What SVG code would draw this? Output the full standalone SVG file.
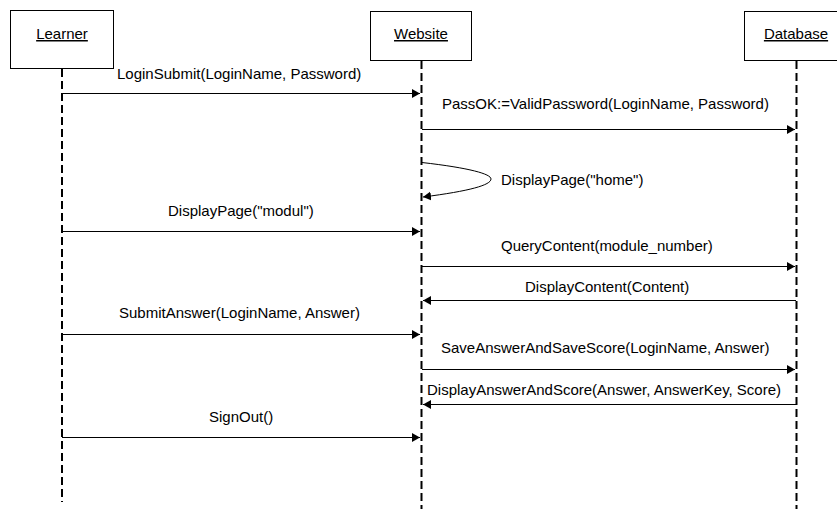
<svg xmlns="http://www.w3.org/2000/svg" width="837" height="509" viewBox="0 0 837 509">
<style>
text{font-family:"Liberation Sans",Arial,sans-serif;font-size:15px;fill:#000}
.box{fill:#fff;stroke:#000;stroke-width:1}
.life{stroke:#000;stroke-width:2;stroke-dasharray:8 4;fill:none}
.msg{stroke:#000;stroke-width:1;fill:none}
.name{text-decoration:underline;text-anchor:middle}
</style>
<defs>
<marker id="ah" markerWidth="10" markerHeight="10" refX="8" refY="5" orient="auto" markerUnits="userSpaceOnUse">
<path d="M0,0.5 L8,5 L0,9.5 Z" fill="#000"/>
</marker>
</defs>
<g id="learner">
<rect class="box" x="10.5" y="10.5" width="103" height="58"/>
<text class="name" x="62" y="39">Learner</text>
<line class="life" x1="62" y1="69" x2="62" y2="502"/>
</g>
<g id="website">
<rect class="box" x="370.5" y="11.5" width="101" height="49"/>
<text class="name" x="421" y="39">Website</text>
<line class="life" x1="421.5" y1="61" x2="421.5" y2="509"/>
</g>
<g id="database">
<rect class="box" x="744.5" y="11.5" width="104" height="49"/>
<text class="name" x="796" y="39">Database</text>
<line class="life" x1="796.5" y1="61" x2="796.5" y2="509"/>
</g>
<g id="connectors">
<line class="msg" x1="62" y1="93.5" x2="420" y2="93.5" marker-end="url(#ah)"/>
<text x="117" y="79">LoginSubmit(LoginName, Password)</text>
<line class="msg" x1="422" y1="129.5" x2="795" y2="129.5" marker-end="url(#ah)"/>
<text x="442" y="109">PassOK:=ValidPassword(LoginName, Password)</text>
<path class="msg" d="M422,162.5 C470,168 491,174 491,179 C491,185 470,191 423,197" marker-end="url(#ah)"/>
<text x="501" y="185">DisplayPage("home")</text>
<line class="msg" x1="62" y1="231.5" x2="420" y2="231.5" marker-end="url(#ah)"/>
<text x="168" y="216">DisplayPage("modul")</text>
<line class="msg" x1="422" y1="266.5" x2="795" y2="266.5" marker-end="url(#ah)"/>
<text x="501" y="251">QueryContent(module_number)</text>
<line class="msg" x1="796" y1="300.5" x2="423" y2="300.5" marker-end="url(#ah)"/>
<text x="525" y="292">DisplayContent(Content)</text>
<line class="msg" x1="62" y1="334.5" x2="420" y2="334.5" marker-end="url(#ah)"/>
<text x="119" y="318">SubmitAnswer(LoginName, Answer)</text>
<line class="msg" x1="422" y1="369.5" x2="795" y2="369.5" marker-end="url(#ah)"/>
<text x="441" y="353">SaveAnswerAndSaveScore(LoginName, Answer)</text>
<line class="msg" x1="796" y1="404.5" x2="423" y2="404.5" marker-end="url(#ah)"/>
<text x="427" y="395">DisplayAnswerAndScore(Answer, AnswerKey, Score)</text>
<line class="msg" x1="62" y1="437.5" x2="420" y2="437.5" marker-end="url(#ah)"/>
<text x="209" y="422">SignOut()</text>
</g>
</svg>
